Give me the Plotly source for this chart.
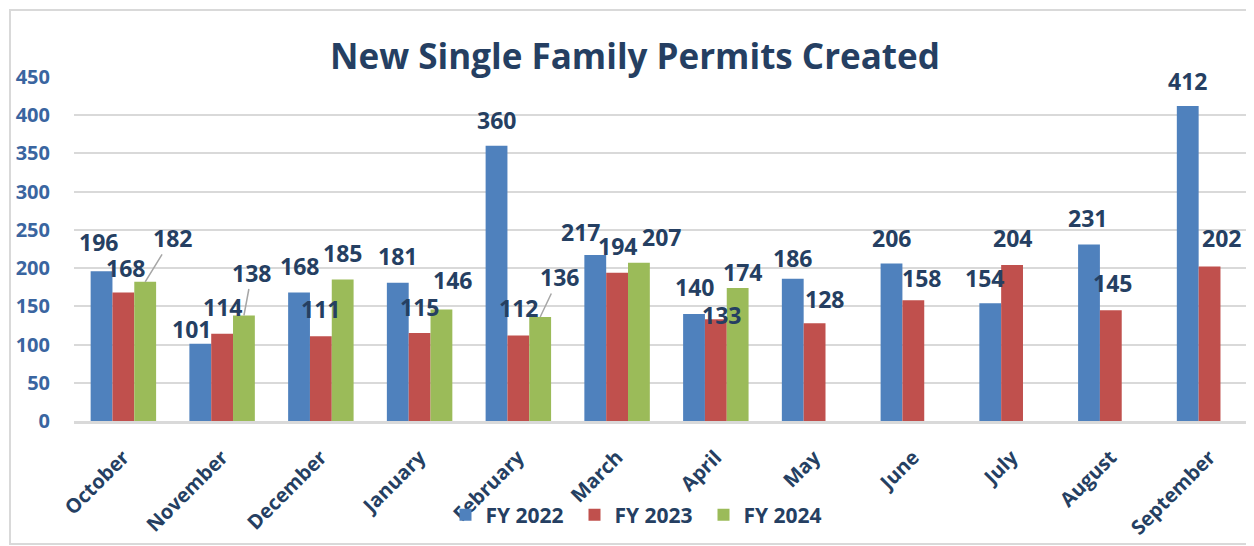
import plotly.graph_objects as go

months = ["October", "November", "December", "January", "February", "March",
          "April", "May", "June", "July", "August", "September"]
fy2022 = [196, 101, 168, 181, 360, 217, 140, 186, 206, 154, 231, 412]
fy2023 = [168, 114, 111, 115, 112, 194, 133, 128, 158, 204, 145, 202]
fy2024 = [182, 138, 185, 146, 136, 207, 174, None, None, None, None, None]
series_names = ["FY 2022", "FY 2023", "FY 2024"]
series_colors = ["#4F81BD", "#C0504D", "#9BBB59"]

# label offsets (pixels) from bar top-centre: (dx, dy_down, leader_line)
label_offsets = [
    [(-3, -29, 0), (-9, -15, 0), (0, -27, 0), (0, -27, 0), (0, -26, 0), (-15, -23, 0),
     (0, -27, 0), (0, -21, 0), (0, -26, 0), (-6, -25, 0), (-1, -26, 0), (0, -25, 0)],
    [(2, -25, 0), (0, -27, 0), (0, -27, 0), (0, -26, 0), (0, -27, 0), (0, -27, 0),
     (6, -4, 0), (10, -24, 0), (8, -22, 0), (0, -27, 0), (2, -27, 0), (12, -29, 0)],
    [(27, -44, 1), (8, -43, 1), (0, -27, 0), (11, -29, 0), (19, -40, 1), (23, -26, 0),
     (5, -16, 0), None, None, None, None, None],
]

OFF = 8  # default page body margin
W, H = 1254 - OFF, 546 - OFF
ML, MR, MT, MB = 74 - OFF, 0, 77 - OFF, 125
pw, ph = W - ML - MR, H - MT - MB
xr = [-0.5, 11.45]
bargap = 0.337
cat_px = pw / (xr[1] - xr[0])
bar_px = cat_px * (1 - bargap) / 3

navy = "#253F62"
font_fam = "Open Sans, Noto Sans, sans-serif"

fig = go.Figure()
for name, vals, col in zip(series_names, [fy2022, fy2023, fy2024], series_colors):
    fig.add_trace(go.Bar(x=months, y=vals, name=name, marker=dict(color=col, line=dict(width=0)),
                         hoverinfo="skip"))

annotations = []
for s, vals in enumerate([fy2022, fy2023, fy2024]):
    for i, v in enumerate(vals):
        if v is None:
            continue
        dx, dy, lead = label_offsets[s][i]
        base_shift = (s - 1) * bar_px
        fnt = dict(family=font_fam, size=23, color=navy, weight=700)
        if lead:
            annotations.append(dict(x=months[i], y=v, xref="x", yref="y", text=str(v),
                                    showarrow=True, arrowhead=0, arrowwidth=1.5,
                                    arrowcolor="#A6A6A6", ax=dx, ay=dy, xshift=base_shift,
                                    borderpad=0, font=fnt))
        else:
            annotations.append(dict(x=months[i], y=v, xref="x", yref="y", text=str(v),
                                    showarrow=False, xanchor="center", yanchor="middle",
                                    xshift=base_shift + dx, yshift=-dy, font=fnt))

fig.update_layout(
    width=W, height=H,
    margin=dict(l=ML, r=MR, t=MT, b=MB),
    paper_bgcolor="white", plot_bgcolor="white",
    barmode="group", bargap=bargap, bargroupgap=0,
    title=dict(text="New Single Family Permits Created", x=(635 - OFF) / W, xanchor="center",
               y=1 - (57 - OFF) / H, yanchor="middle", yref="container",
               font=dict(family=font_fam, size=35, color=navy, weight=700)),
    xaxis=dict(range=xr, showgrid=False, tickangle=-45, showline=True, linecolor="#D9D9D9",
               linewidth=2.5, ticks="", ticklabelstandoff=14,
               tickfont=dict(family=font_fam, size=20, color=navy, weight=700)),
    yaxis=dict(range=[0, 450], dtick=50, showgrid=True, gridcolor="#D9D9D9", gridwidth=1.5,
               zeroline=False, showline=False, ticks="", ticklabelstandoff=23,
               tickfont=dict(family=font_fam, size=20, color="#3A65A0", weight=700)),
    legend=dict(orientation="h", x=(639 - 74) / pw, xanchor="center",
                y=(421 - 515) / ph, yanchor="middle", entrywidth=84,
                font=dict(family=font_fam, size=21, color=navy, weight=700),
                bgcolor="rgba(0,0,0,0)"),
    annotations=annotations,
    shapes=[dict(type="rect", xref="paper", yref="paper",
                 x0=(10 - 74) / pw, x1=(W + 20 - ML) / pw,
                 y0=(421 - 544) / ph, y1=(421 - 10) / ph,
                 line=dict(color="#D9D9D9", width=2), layer="below")],
    showlegend=True,
)

fig.write_html("out.html")
